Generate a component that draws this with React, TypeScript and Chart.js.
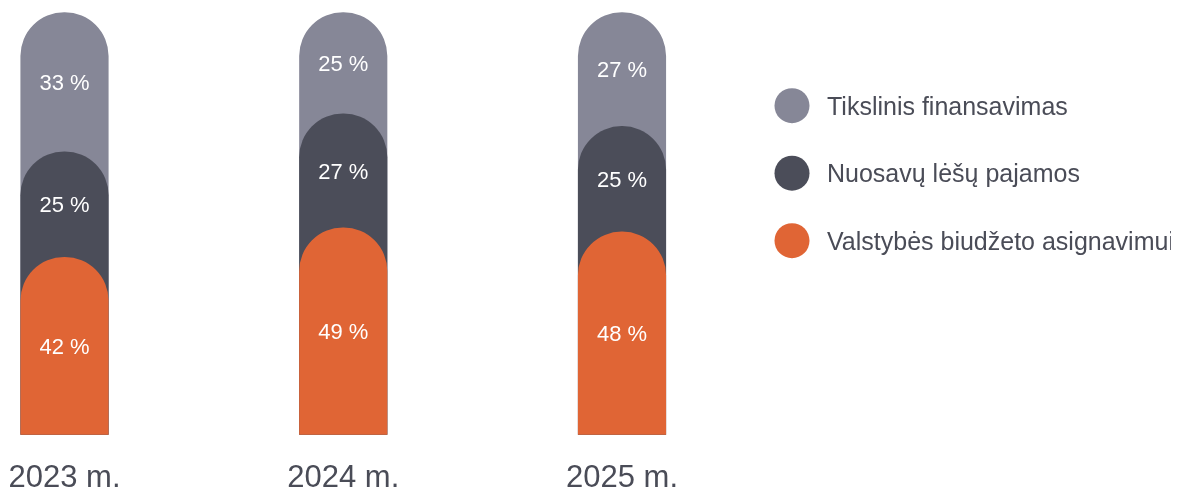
import React, { useEffect, useRef } from "react";
import { Chart, registerables } from "chart.js";

Chart.register(...registerables);

const categories = ["2023 m.", "2024 m.", "2025 m."];
const seriesNames = [
  "Valstybės biudžeto asignavimui",
  "Nuosavų lėšų pajamos",
  "Tikslinis finansavimas",
];
const valstybes = [42, 49, 48];
const nuosavu = [25, 27, 25];
const tikslinis = [33, 25, 27];
const seriesColors = ["#e06535", "#4b4d59", "#868797"];
const legendOrder = [2, 1, 0];

const FONT = "'Liberation Sans', Arial, sans-serif";
const TEXT_COLOR = "#4a4c57";
const CAP = 0.716;

const shares = [valstybes, nuosavu, tikslinis];
const cumulative: number[][] = [];
shares.forEach((arr, d) => {
  cumulative.push(
    arr.map((v, i) => {
      const prev = d === 0 ? 0 : cumulative[d - 1][i];
      return Math.min(100, prev + v);
    })
  );
});

const valueLabels = {
  id: "valueLabels",
  afterDatasetsDraw(chart: any) {
    const ctx = chart.ctx;
    const size = 22;
    ctx.save();
    ctx.font = `400 ${size}px ${FONT}`;
    ctx.fillStyle = "#ffffff";
    ctx.textAlign = "center";
    ctx.textBaseline = "alphabetic";
    shares.forEach((arr, d) => {
      const meta = chart.getDatasetMeta(d);
      meta.data.forEach((el: any, i: number) => {
        const lower =
          d === 0 ? el.base : chart.getDatasetMeta(d - 1).data[i].y;
        const y = (el.y + lower) / 2;
        ctx.fillText(`${arr[i]} %`, el.x, y + (CAP * size) / 2);
      });
    });
    ctx.restore();
  },
};

const categoryLabels = {
  id: "categoryLabels",
  afterDraw(chart: any) {
    const ctx = chart.ctx;
    const xs = chart.scales.x;
    ctx.save();
    ctx.font = `400 31px ${FONT}`;
    ctx.fillStyle = TEXT_COLOR;
    ctx.textAlign = "center";
    ctx.textBaseline = "alphabetic";
    categories.forEach((c, i) => {
      ctx.fillText(c, xs.getPixelForValue(i), chart.chartArea.bottom + 52.5);
    });
    ctx.restore();
  },
};

const sideLegend = {
  id: "sideLegend",
  afterDraw(chart: any) {
    const ctx = chart.ctx;
    const size = 25;
    ctx.save();
    const cx = 784;
    const tx = 819;
    const y0 = 97.7;
    const step = 67.5;
    legendOrder.forEach((d, k) => {
      const y = y0 + k * step;
      ctx.beginPath();
      ctx.arc(cx, y, 17.5, 0, Math.PI * 2);
      ctx.fillStyle = seriesColors[d];
      ctx.fill();
      ctx.font = `400 ${size}px ${FONT}`;
      ctx.fillStyle = TEXT_COLOR;
      ctx.textAlign = "left";
      ctx.textBaseline = "alphabetic";
      ctx.fillText(seriesNames[d], tx, y + (CAP * size) / 2);
    });
    ctx.restore();
  },
};

export default function App() {
  const ref = useRef<HTMLCanvasElement | null>(null);
  useEffect(() => {
    if (!ref.current) return;
    const chart = new Chart(ref.current, {
      type: "bar",
      data: {
        labels: categories,
        datasets: cumulative.map((data, d) => ({
          label: seriesNames[d],
          data,
          backgroundColor: seriesColors[d],
          borderWidth: 0,
          borderRadius: { topLeft: 60, topRight: 60, bottomLeft: 0, bottomRight: 0 },
          barThickness: 87.5,
          grouped: false,
          clip: false,
        })),
      },
      options: {
        animation: false,
        responsive: false,
        devicePixelRatio: 1,
        layout: { padding: { left: 56.5, right: 549, top: 4.5, bottom: 53.5 } },
        plugins: {
          legend: { display: false },
          tooltip: { enabled: false },
        },
        scales: {
          x: {
            type: "category",
            offset: false,
            display: false,
          },
          y: { display: false, min: 0, max: 100 },
        },
      },
      plugins: [valueLabels, categoryLabels, sideLegend],
    });
    return () => chart.destroy();
  }, []);
  return (
    <canvas
      ref={ref}
      width={1163}
      height={480}
      style={{ display: "block", width: 1163, height: 480 }}
    />
  );
}
